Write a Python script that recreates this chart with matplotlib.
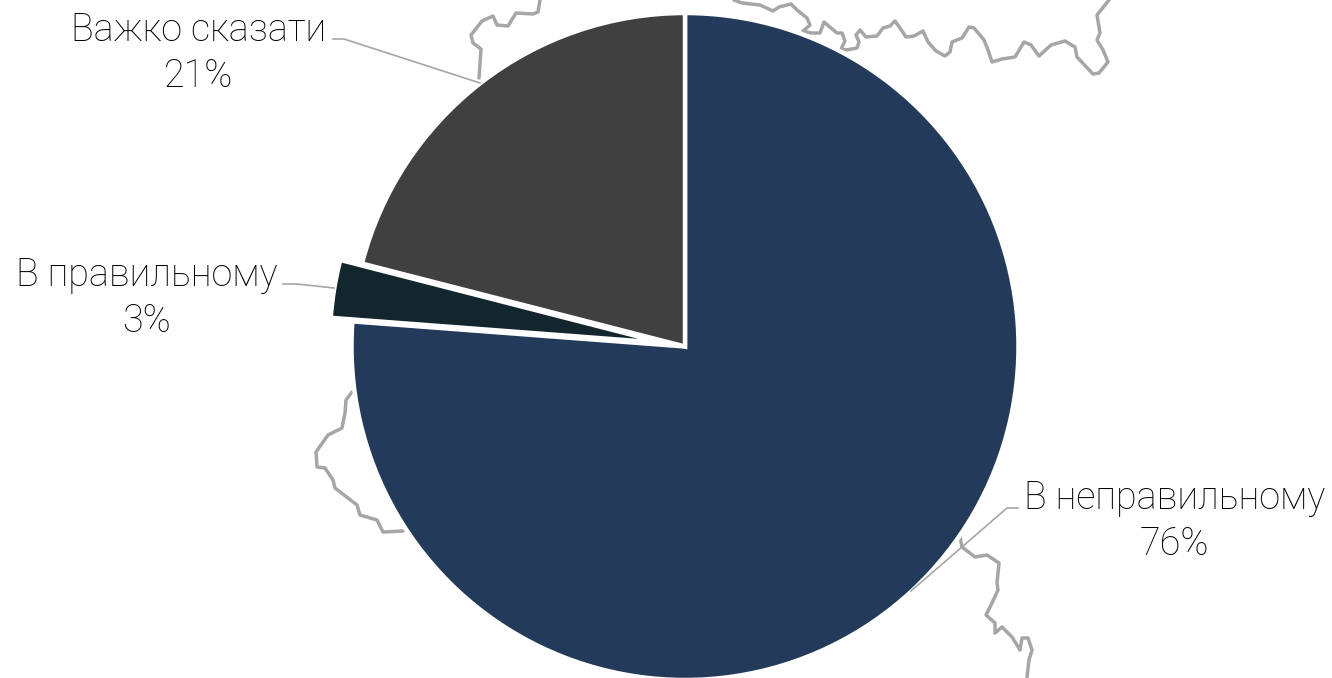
import matplotlib
matplotlib.use('Agg')
import matplotlib.pyplot as plt

plt.rcParams['font.family'] = ['Roboto', 'DejaVu Sans']

W, H = 1332, 678

labels = ['В неправильному', 'В правильному', 'Важко сказати']
percents = ['76%', '3%', '21%']
values = [76.2, 2.8, 21.0]
colors = ['#243A5A', '#13262E', '#404040']
explode = [0, 22, 0]  # у pie це одиниці осей, тобто пікселі

# позиції підписів і виносок, у пікселях картинки
label_xy = [(1174.5, 521.5), (146.5, 298), (199, 53.5)]
leaders = [
    [(1018, 508), (1007, 508), (911, 591)],
    [(283, 284), (297, 284), (334, 288)],
    [(333, 39), (344, 39), (480, 83)],
]

# контур карти на фоні
map_top_left = [(540, 0), (538, 12), (533, 14), (516, 13), (508, 26), (497, 25), (493, 16),
                (482, 21), (471, 35), (473, 43), (481, 49), (479, 78)]
map_top_right = [(734, 0), (742, 3), (760, 5), (773, 11), (779, 7), (791, 4), (797, 10), (807, 18),
                 (810, 25), (803, 31), (811, 33), (820, 33), (824, 22), (831, 28), (837, 33),
                 (842, 33), (845, 41), (841, 49), (846, 50), (857, 48), (859, 42), (856, 35),
                 (860, 30), (866, 37), (877, 36), (883, 28), (890, 26), (895, 21), (900, 28),
                 (906, 37), (914, 36), (923, 31), (928, 42), (936, 51), (945, 56), (950, 52),
                 (952, 42), (962, 38), (969, 27), (974, 28), (984, 40), (988, 50), (992, 62),
                 (1002, 59), (1015, 57), (1024, 42), (1031, 45), (1039, 56), (1051, 45),
                 (1065, 41), (1075, 47), (1077, 57), (1093, 74), (1099, 73), (1108, 62),
                 (1103, 50), (1097, 40), (1100, 33), (1097, 15), (1109, 0)]
map_right = [(960, 537), (962, 547), (975, 557), (987, 555), (999, 563), (997, 583), (998, 590),
             (992, 603), (986, 615), (995, 623), (995, 633), (1002, 627), (1012, 637),
             (1020, 650), (1022, 638), (1028, 638), (1032, 650), (1029, 660), (1027, 677)]
map_left = [(352, 392), (346, 400), (345, 413), (342, 428), (328, 435), (316, 452), (317, 467),
            (325, 468), (333, 480), (335, 488), (357, 505), (360, 515), (377, 520), (383, 532),
            (403, 531)]

fig = plt.figure(figsize=(W / 100, H / 100), dpi=100)
ax = fig.add_axes([0, 0, 1, 1])

for part in [map_top_left, map_top_right, map_right, map_left]:
    ax.plot([p[0] for p in part], [H - p[1] for p in part], color='#A6A6A6', lw=2.5, zorder=1,
            solid_joinstyle='round', solid_capstyle='round')

ax.pie(values, colors=colors, explode=explode, startangle=90, counterclock=False,
       center=(685, H - 346.5), radius=333.5, frame=False,
       wedgeprops={'edgecolor': 'white', 'linewidth': 3.2, 'zorder': 2})

for line in leaders:
    ax.plot([p[0] for p in line], [H - p[1] for p in line], color='#A6A6A6', lw=1.2, zorder=3)

for name, pct, (x, y) in zip(labels, percents, label_xy):
    ax.text(x, H - y, f'{name}\n{pct}', ha='center', va='center', fontsize=27.2,
            fontweight='light', color='black', linespacing=1.28, zorder=4)

ax.set_xlim(0, W)
ax.set_ylim(0, H)
ax.set_aspect('equal')
ax.axis('off')

fig.savefig('out.png', dpi=100)
